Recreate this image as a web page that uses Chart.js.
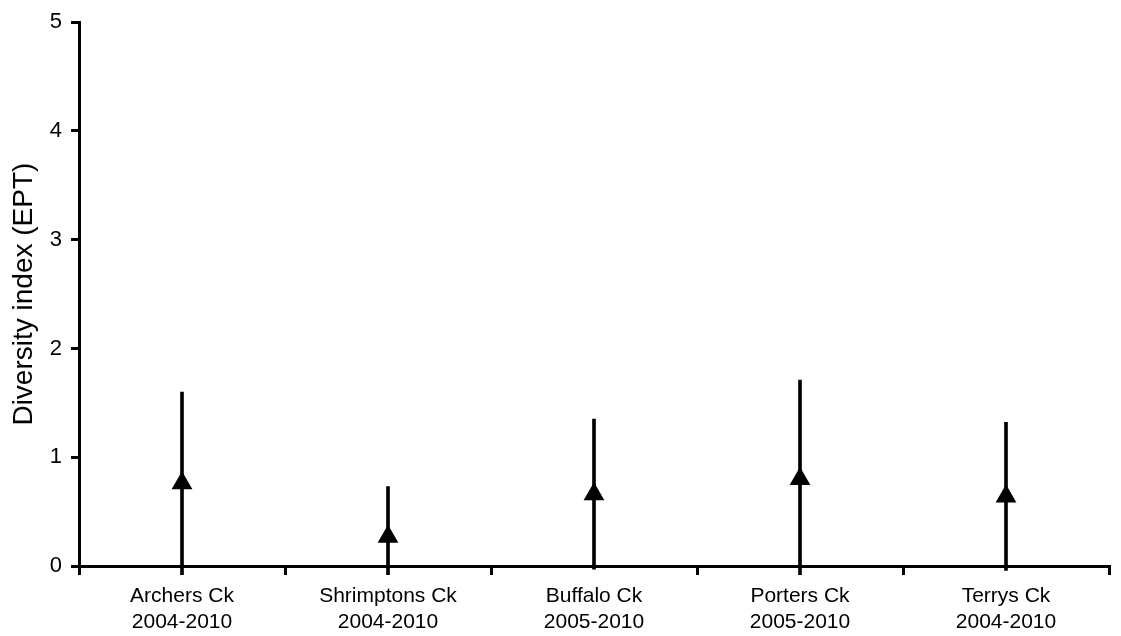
<!DOCTYPE html>
<html>
<head>
<meta charset="utf-8">
<title>Diversity index (EPT)</title>
<script src="https://cdn.jsdelivr.net/npm/chart.js@4.4.1/dist/chart.umd.min.js"></script>
<style>
  html, body { margin: 0; padding: 0; background: #fff; }
  #wrap { width: 1121px; height: 636px; position: relative; }
</style>
</head>
<body>
<div id="wrap"><canvas id="myChart"></canvas></div>
<script>
// sites and sampling periods
const sites = ['Archers Ck', 'Shrimptons Ck', 'Buffalo Ck', 'Porters Ck', 'Terrys Ck'];
const periods = ['2004-2010', '2004-2010', '2005-2010', '2005-2010', '2004-2010'];

// mean EPT index and top of the error bar
const means = [0.76, 0.27, 0.66, 0.80, 0.64];
const upper = [1.60, 0.73, 1.35, 1.71, 1.32];

const yTicks = [0, 1, 2, 3, 4, 5];

const labels = sites.map((s, i) => [s, periods[i]]);
// symmetric error bars: lower end = mean - (upper - mean)
const errBars = means.map((m, i) => [m - (upper[i] - m), upper[i]]);

const font = "'Liberation Sans', Arial, Helvetica, sans-serif";

const ctx = document.getElementById('myChart');
new Chart(ctx, {
  type: 'bar',
  data: {
    labels: labels,
    datasets: [
      {
        type: 'line',
        label: 'Mean',
        data: means,
        showLine: false,
        pointStyle: 'triangle',
        pointRadius: 12,
        pointBackgroundColor: '#000',
        pointBorderColor: '#000',
        pointBorderWidth: 0,
        order: 0
      },
      {
        label: 'Range',
        data: errBars,
        backgroundColor: '#000',
        borderWidth: 0,
        barThickness: 3,
        clip: { left: 0, top: 0, right: 0, bottom: 9 },
        order: 1
      }
    ]
  },
  options: {
    responsive: true,
    maintainAspectRatio: false,
    animation: false,
    layout: { padding: { top: 19, right: 8, bottom: 0, left: 0 } },
    plugins: {
      legend: { display: false },
      tooltip: { enabled: false }
    },
    scales: {
      x: {
        offset: true,
        grid: {
          offset: true,
          drawOnChartArea: false,
          tickLength: 9,
          color: '#000',
          lineWidth: 3
        },
        border: { display: true, color: '#000', width: 3 },
        ticks: {
          color: '#000',
          font: { family: font, size: 21 },
          padding: 9,
          maxRotation: 0,
          autoSkip: false
        },
        afterFit: function (scale) { scale.height = 70; }
      },
      y: {
        min: 0,
        max: 5,
        afterBuildTicks: function (scale) {
          scale.ticks = yTicks.map(v => ({ value: v }));
        },
        grid: {
          drawOnChartArea: false,
          tickLength: 8,
          color: '#000',
          lineWidth: 3
        },
        border: { display: true, color: '#000', width: 3 },
        ticks: {
          color: '#000',
          font: { family: font, size: 22 },
          padding: 9
        },
        title: {
          display: true,
          text: 'Diversity index (EPT)',
          color: '#000',
          font: { family: font, size: 28 },
          padding: { top: 7, bottom: 0 }
        },
        afterFit: function (scale) { scale.width = 79; }
      }
    }
  }
});
</script>
</body>
</html>
